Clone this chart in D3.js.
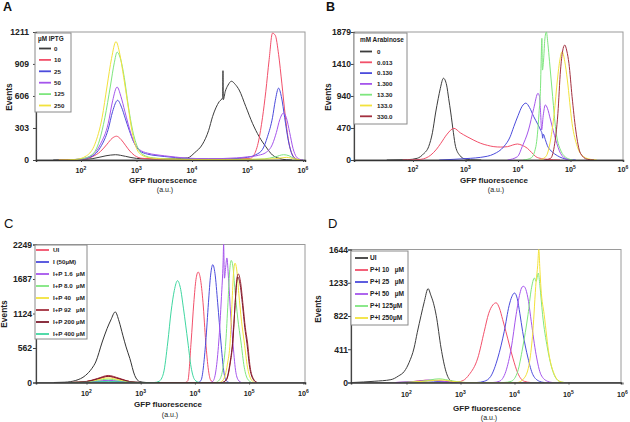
<!DOCTYPE html>
<html><head><meta charset="utf-8">
<script src="https://cdn.jsdelivr.net/npm/d3@7"></script>
<style>body{margin:0;background:#fff}text{font-family:"Liberation Sans",Arial,sans-serif}</style>
</head><body>
<script>
// ===== DATA (x = log10 GFP fluorescence, y = events) =====
// Panel A: µM IPTG
const aLabels = ["0","10","25","50","125","250"];
const aYTicks = [0,303,606,909,1211];
const a0 = [[1.5,0],[1.9,3],[2.2,12],[2.45,40],[2.62,50],[2.8,35],[3.0,15],[3.3,10],[3.7,12],[3.92,20],[4.05,70],[4.19,150],[4.3,280],[4.37,410],[4.49,552],[4.553,590],[4.558,845],[4.563,570],[4.6,650],[4.65,709],[4.71,745],[4.78,715],[4.85,662],[4.97,505],[5.09,347],[5.21,221],[5.33,126],[5.45,47],[5.57,16],[5.7,2],[5.8,0]];
const a10 = [[1.6,0],[2.0,5],[2.2,30],[2.35,80],[2.47,150],[2.56,205],[2.64,225],[2.72,195],[2.8,140],[2.88,85],[2.96,45],[3.1,16],[3.5,8],[4.5,8],[4.9,12],[5.05,15],[5.12,50],[5.2,180],[5.27,400],[5.33,650],[5.39,950],[5.45,1200],[5.5,1180],[5.56,1000],[5.62,720],[5.68,420],[5.74,180],[5.8,60],[5.88,10],[5.95,0]];
const a25 = [[1.8,3],[2.0,8],[2.2,35],[2.35,120],[2.49,290],[2.57,460],[2.66,565],[2.73,500],[2.8,390],[2.87,280],[2.95,170],[3.05,90],[3.2,55],[3.35,42],[3.5,33],[3.7,23],[3.9,15],[4.3,10],[4.7,12],[5.0,25],[5.15,50],[5.27,100],[5.36,220],[5.45,400],[5.5,560],[5.56,680],[5.61,600],[5.67,400],[5.73,200],[5.79,70],[5.85,15],[5.92,0]];
const a50 = [[1.8,3],[2.0,10],[2.2,45],[2.35,150],[2.49,345],[2.57,560],[2.65,690],[2.72,600],[2.79,460],[2.85,340],[2.93,200],[3.05,100],[3.2,65],[3.35,50],[3.5,40],[3.7,28],[3.9,18],[4.3,12],[4.8,20],[5.0,30],[5.2,45],[5.33,70],[5.45,150],[5.52,260],[5.58,380],[5.65,445],[5.7,400],[5.76,260],[5.82,110],[5.88,30],[5.95,5],[6.0,0]];
const a125 = [[1.8,3],[2.0,10],[2.2,50],[2.33,180],[2.43,400],[2.53,700],[2.6,920],[2.65,1020],[2.71,960],[2.78,780],[2.85,520],[2.93,280],[3.02,120],[3.12,50],[3.3,20],[3.6,10],[4.2,5],[5.0,5],[5.3,10],[5.5,30],[5.65,50],[5.75,40],[5.85,10],[5.95,0]];
const a250 = [[1.6,0],[1.9,5],[2.1,40],[2.25,150],[2.38,400],[2.47,700],[2.55,960],[2.63,1120],[2.7,1000],[2.77,780],[2.84,540],[2.92,270],[3.0,110],[3.1,45],[3.25,20],[3.5,10],[4.0,5],[4.6,5],[5.2,8],[5.5,12],[5.7,25],[5.85,10],[5.95,0]];

// Panel B: mM Arabinose
const bLabels = ["0","0.013","0.130","1.300","13.30","133.0","330.0"];
const bYTicks = [0,470,940,1410,1879];
const b0 = [[1.5,0],[1.9,5],[2.08,25],[2.2,90],[2.3,200],[2.37,400],[2.43,690],[2.48,900],[2.52,1050],[2.58,1200],[2.64,1100],[2.68,900],[2.72,690],[2.77,400],[2.81,200],[2.9,60],[2.97,20],[3.1,3],[3.3,0]];
const b0013 = [[1.8,0],[2.0,3],[2.15,10],[2.34,73],[2.45,160],[2.53,245],[2.65,380],[2.78,465],[2.9,400],[3.03,342],[3.16,290],[3.29,245],[3.42,215],[3.54,196],[3.67,190],[3.8,196],[3.9,220],[3.99,235],[4.08,215],[4.18,171],[4.26,110],[4.34,49],[4.45,20],[4.56,10],[4.8,0]];
const b0130 = [[2.5,0],[2.78,10],[3.1,25],[3.29,39],[3.54,88],[3.73,196],[3.85,340],[3.92,489],[4.0,650],[4.08,790],[4.15,835],[4.22,770],[4.3,636],[4.38,520],[4.43,440],[4.46,380],[4.47,320],[4.48,380],[4.52,300],[4.56,210],[4.65,120],[4.75,63],[4.94,10],[5.1,0]];
const b1300 = [[3.8,0],[3.99,49],[4.08,196],[4.2,440],[4.3,758],[4.38,979],[4.41,930],[4.43,700],[4.45,440],[4.48,650],[4.52,808],[4.56,760],[4.62,587],[4.72,294],[4.81,98],[4.94,10],[5.05,0]];
const b1330 = [[4.1,0],[4.25,30],[4.34,196],[4.4,685],[4.43,1100],[4.44,1419],[4.455,1786],[4.465,1320],[4.49,1500],[4.51,1762],[4.54,1879],[4.57,1700],[4.6,1450],[4.66,930],[4.72,440],[4.81,147],[4.94,25],[5.05,0]];
const b1330b = [[4.4,0],[4.53,49],[4.62,294],[4.69,685],[4.75,1174],[4.8,1480],[4.84,1590],[4.89,1450],[4.94,1174],[5.03,538],[5.13,196],[5.25,49],[5.38,10],[5.5,0]];
const b3300 = [[4.5,0],[4.62,24],[4.69,196],[4.76,685],[4.81,1322],[4.85,1600],[4.89,1688],[4.93,1600],[4.97,1419],[5.03,930],[5.1,440],[5.19,98],[5.32,10],[5.45,0]];

// Panel C
const cLabels = ["UI","I (50µM)","I+P 1.6  µM","I+P 8.0  µM","I+P 40   µM","I+P 92   µM","I+P 200 µM","I+P 400 µM"];
const cYTicks = [0,562,1124,1687,2249];
const cControl = [[1.4,0],[1.6,5],[1.8,33],[1.98,114],[2.1,230],[2.17,334],[2.29,660],[2.38,880],[2.45,1020],[2.53,1150],[2.6,1000],[2.67,770],[2.73,580],[2.8,391],[2.89,114],[2.98,16],[3.1,0]];
const cUI = [[1.7,0],[2.0,15],[2.2,55],[2.4,100],[2.6,60],[2.8,15],[3.0,0],[3.82,0],[3.87,30],[3.93,660],[3.98,1300],[4.02,1680],[4.06,1800],[4.1,1700],[4.15,1300],[4.2,660],[4.25,200],[4.29,40],[4.35,0]];
const cI50 = [[1.7,0],[2.0,5],[2.2,15],[2.4,25],[2.6,15],[2.8,5],[3.0,0],[4.05,0],[4.11,30],[4.2,660],[4.25,1300],[4.29,1750],[4.33,1920],[4.37,1780],[4.42,1300],[4.48,660],[4.53,200],[4.57,40],[4.63,0]];
const cIP16 = [[1.7,0],[2.0,8],[2.2,22],[2.4,35],[2.6,22],[2.8,6],[3.0,0],[4.28,0],[4.34,30],[4.44,660],[4.49,1400],[4.52,1950],[4.53,2249],[4.545,1700],[4.57,1900],[4.59,2030],[4.62,1700],[4.66,1100],[4.7,660],[4.75,200],[4.8,40],[4.86,0]];
const cIP8 = [[1.7,0],[2.0,10],[2.2,35],[2.4,55],[2.6,35],[2.8,8],[3.0,0],[4.38,0],[4.45,40],[4.52,250],[4.57,660],[4.61,1300],[4.64,1800],[4.67,1990],[4.7,1900],[4.74,1500],[4.79,1050],[4.85,660],[4.91,250],[4.97,60],[5.05,0]];
const cIP40 = [[1.7,0],[2.0,12],[2.2,45],[2.4,75],[2.6,45],[2.8,10],[3.0,0],[4.45,0],[4.52,40],[4.6,300],[4.65,660],[4.68,1200],[4.71,1750],[4.74,1945],[4.77,1850],[4.81,1450],[4.86,1000],[4.91,660],[4.97,250],[5.03,60],[5.1,0]];
const cIP92 = [[1.7,0],[2.0,18],[2.2,65],[2.4,115],[2.6,70],[2.8,15],[3.0,0],[4.5,0],[4.58,40],[4.65,300],[4.7,660],[4.74,1250],[4.77,1650],[4.8,1770],[4.84,1650],[4.89,1250],[4.93,900],[4.97,660],[5.02,250],[5.08,60],[5.15,0]];
const cIP200 = [[1.7,0],[2.0,15],[2.2,58],[2.4,100],[2.6,62],[2.8,14],[3.0,0],[4.5,0],[4.58,50],[4.65,330],[4.7,700],[4.74,1250],[4.77,1620],[4.79,1720],[4.83,1620],[4.88,1250],[4.92,900],[4.96,640],[5.01,250],[5.07,60],[5.14,0]];
const cIP400 = [[1.7,0],[2.1,5],[2.4,20],[2.7,5],[3.0,0],[3.25,0],[3.34,20],[3.42,150],[3.5,660],[3.56,1150],[3.62,1500],[3.68,1660],[3.73,1550],[3.79,1200],[3.87,660],[3.93,250],[4.0,40],[4.08,0]];

// Panel D
const dLabels = ["UI","P+I 10   µM","P+I 25   µM","P+I 50   µM","P+I 125µM","P+I 250µM"];
const dYTicks = [0,411,822,1233,1644];
const dUI = [[1.0,0],[1.4,15],[1.71,35],[1.85,80],[1.96,138],[2.05,250],[2.14,426],[2.2,620],[2.27,830],[2.33,1000],[2.4,1160],[2.45,1080],[2.5,980],[2.55,830],[2.64,426],[2.73,138],[2.82,23],[2.95,0]];
const dPI10 = [[1.8,0],[2.1,10],[2.35,28],[2.55,25],[2.8,8],[2.95,8],[3.05,25],[3.16,97],[3.32,302],[3.44,632],[3.52,850],[3.6,960],[3.66,985],[3.72,920],[3.78,780],[3.84,632],[3.97,302],[4.06,117],[4.18,15],[4.3,0]];
const dPI25 = [[1.8,0],[2.2,10],[2.4,20],[2.6,12],[2.9,0],[3.3,0],[3.44,15],[3.56,76],[3.69,302],[3.81,632],[3.9,950],[3.95,1060],[4.0,1106],[4.05,1040],[4.1,850],[4.15,632],[4.25,302],[4.34,97],[4.46,15],[4.55,0]];
const dPI50 = [[1.8,0],[2.2,15],[2.4,30],[2.6,20],[2.9,0],[3.6,0],[3.72,15],[3.84,138],[3.94,426],[4.03,838],[4.1,1100],[4.14,1180],[4.17,1189],[4.21,1150],[4.26,1000],[4.31,756],[4.4,344],[4.49,97],[4.61,15],[4.7,0]];
const dPI125 = [[1.9,0],[2.3,15],[2.6,45],[2.85,20],[3.1,0],[3.8,0],[3.94,15],[4.06,138],[4.15,426],[4.25,838],[4.31,1150],[4.37,1292],[4.4,1250],[4.44,1353],[4.47,1200],[4.52,838],[4.61,426],[4.71,138],[4.83,15],[4.92,0]];
const dPI250 = [[2.0,0],[2.4,20],[2.65,30],[2.9,10],[3.1,0],[4.05,0],[4.18,55],[4.28,260],[4.34,632],[4.4,1250],[4.43,1450],[4.45,1644],[4.47,1400],[4.49,1168],[4.55,838],[4.64,344],[4.74,97],[4.83,15],[4.92,0]];

const xTickExps = [2,3,4,5,6];

// ===== STYLES / LAYOUT =====
const BLACK="#3c3c3c", RED="#f2506a", BLUE="#4b4bdc", PURPLE="#a555ec", GREEN="#7ee67e", YELLOW="#f2e23c", MAROON="#a3303f", DARKRED="#7e1a2c", MINT="#3fd6a0";

const panels = [
 {letter:"A", bold:true, lx:3, ly:11, left:36,right:305,top:32,bottom:160, x2:81, dec:55.5, yMax:1211, yTicks:aYTicks,
  yLabelRight:29, xLabY:173, evX:12, evY:97, gfpX:163, gfpY:183, auY:192,
  series:[a0,a10,a25,a50,a125,a250], colors:[BLACK,RED,BLUE,PURPLE,GREEN,YELLOW], labels:aLabels,
  legend:{x:35,y:33,w:36,h:79,title:"µM IPTG",titleX:38,titleY:41,row0:48.5,step:11.4,l1:39,l2:51,tx:54,fs:6.2}},
 {letter:"B", bold:true, lx:326, ly:11, left:354,right:623,top:32,bottom:160, x2:413, dec:52.5, yMax:1879, yTicks:bYTicks,
  yLabelRight:351, xLabY:172, evX:331, evY:97, gfpX:494, gfpY:183, auY:192,
  series:[b0,b0013,b0130,b1300,b1330,b1330b,b3300], colors:[BLACK,RED,BLUE,PURPLE,GREEN,YELLOW,MAROON], labels:bLabels,
  legend:{x:354,y:33,w:53,h:91,title:"mM Arabinose",titleX:360,titleY:42,row0:51.5,step:10.8,l1:360,l2:372,tx:377,fs:6.2}},
 {letter:"C", bold:false, lx:4, ly:228, left:36,right:305,top:244.5,bottom:382.5, x2:86.5, dec:54.2, yMax:2249, yTicks:cYTicks,
  yLabelRight:32, xLabY:396, evX:7, evY:314, gfpX:168, gfpY:407, auY:416.5,
  series:[cControl,cUI,cI50,cIP16,cIP8,cIP40,cIP92,cIP200,cIP400], colors:["#333",RED,BLUE,PURPLE,GREEN,YELLOW,MAROON,DARKRED,MINT],
  legendColors:[RED,BLUE,PURPLE,GREEN,YELLOW,MAROON,DARKRED,MINT], labels:cLabels,
  legend:{x:35,y:245,w:52,h:94,title:null,row0:250,step:12,l1:36,l2:49,tx:53,fs:6.2}},
 {letter:"D", bold:false, lx:328, ly:228, left:351,right:621,top:249.5,bottom:382.5, x2:406.5, dec:54, yMax:1644, yTicks:dYTicks,
  yLabelRight:348, xLabY:397, evX:321, evY:309, gfpX:487, gfpY:410.5, auY:420,
  series:[dUI,dPI10,dPI25,dPI50,dPI125,dPI250], colors:[BLACK,RED,BLUE,PURPLE,GREEN,YELLOW], labels:dLabels,
  legend:{x:351,y:251,w:57,h:74,title:null,row0:258,step:12,l1:355,l2:368,tx:370,fs:6.6}}
];

const svg = d3.select("body").append("svg").attr("width",630).attr("height",422);

panels.forEach((p,pi)=>{
  const lo = 2 - (p.x2 - p.left)/p.dec, hi = 2 + (p.right - p.x2)/p.dec;
  const x = d3.scaleLinear().domain([lo,hi]).range([p.left,p.right]);
  const y = d3.scaleLinear().domain([0,p.yMax]).range([p.bottom,p.top]);
  const g = svg.append("g");
  const cid = "clip"+pi;
  svg.append("clipPath").attr("id",cid).append("rect")
    .attr("x",p.left).attr("y",p.top-1).attr("width",p.right-p.left).attr("height",p.bottom-p.top+1);

  // panel letter
  g.append("text").attr("x",p.lx).attr("y",p.ly).text(p.letter)
   .attr("font-size",p.bold?12.5:13).attr("font-weight",p.bold?"bold":"normal").attr("fill","#111");

  // plot frame
  g.append("rect").attr("x",p.left).attr("y",p.top).attr("width",p.right-p.left).attr("height",p.bottom-p.top)
   .attr("fill","#fff").attr("stroke","#9a9a9a").attr("stroke-width",1);

  // curves
  const line = d3.line().x(d=>x(d[0])).y(d=>y(d[1])).curve(d3.curveMonotoneX);
  const cg = g.append("g").attr("clip-path",`url(#${cid})`);
  p.series.forEach((s,i)=>{
    cg.append("path").datum(s).attr("d",line).attr("fill","none")
      .attr("stroke",p.colors[i]).attr("stroke-width",1).attr("stroke-linejoin","round");
  });

  // axes
  const ya = d3.axisLeft(y).tickValues(p.yTicks).tickSize(3).tickFormat(d3.format("d"));
  const yg = g.append("g").attr("transform",`translate(${p.left},0)`).call(ya);
  yg.select(".domain").attr("stroke","#444").attr("stroke-width",1.2);
  yg.selectAll(".tick line").attr("stroke","#444");
  yg.selectAll(".tick text").attr("x",p.yLabelRight - p.left).attr("font-size",8.6).attr("font-weight","bold")
    .attr("fill","#222").attr("font-family","Liberation Sans, Arial, sans-serif");

  const xa = d3.axisBottom(x).tickValues(xTickExps).tickSize(2).tickFormat("");
  const xg = g.append("g").attr("transform",`translate(0,${p.bottom})`).call(xa);
  xg.select(".domain").attr("stroke","#333").attr("stroke-width",1.5);
  xg.selectAll(".tick line").attr("stroke","#444");
  xTickExps.forEach(e=>{
    const t = g.append("text").attr("x",x(e)).attr("y",p.xLabY).attr("text-anchor","middle")
      .attr("font-size",7.2).attr("font-weight","bold").attr("fill","#222");
    t.append("tspan").text("10");
    t.append("tspan").attr("font-size",5).attr("dy",-3).text(String(e));
  });

  // axis titles
  g.append("text").attr("transform",`translate(${p.evX},${p.evY}) rotate(-90)`).attr("text-anchor","middle")
   .attr("font-size",8.4).attr("font-weight","bold").attr("fill","#222").text("Events");
  g.append("text").attr("x",p.gfpX).attr("y",p.gfpY).attr("text-anchor","middle")
   .attr("font-size",8).attr("font-weight","bold").attr("fill","#222").text("GFP fluorescence");
  g.append("text").attr("x",p.gfpX+2).attr("y",p.auY).attr("text-anchor","middle")
   .attr("font-size",7).attr("fill","#222").text("(a.u.)");

  // legend
  const L = p.legend;
  g.append("rect").attr("x",L.x).attr("y",L.y).attr("width",L.w).attr("height",L.h)
   .attr("fill","#fff").attr("stroke","#8a8a8a").attr("stroke-width",1);
  if(L.title){
    g.append("text").attr("x",L.titleX).attr("y",L.titleY).attr("font-size",6.4).attr("font-weight","bold")
     .attr("fill","#222").text(L.title);
  }
  const lc = p.legendColors || p.colors;
  p.labels.forEach((lab,i)=>{
    const yy = L.row0 + i*L.step;
    g.append("line").attr("x1",L.l1).attr("x2",L.l2).attr("y1",yy).attr("y2",yy)
     .attr("stroke",lc[i]).attr("stroke-width",1.8);
    g.append("text").attr("x",L.tx).attr("y",yy+2.2).attr("font-size",L.fs).attr("font-weight","bold")
     .attr("fill","#222").style("white-space","pre").text(lab);
  });
});
</script>
</body></html>
